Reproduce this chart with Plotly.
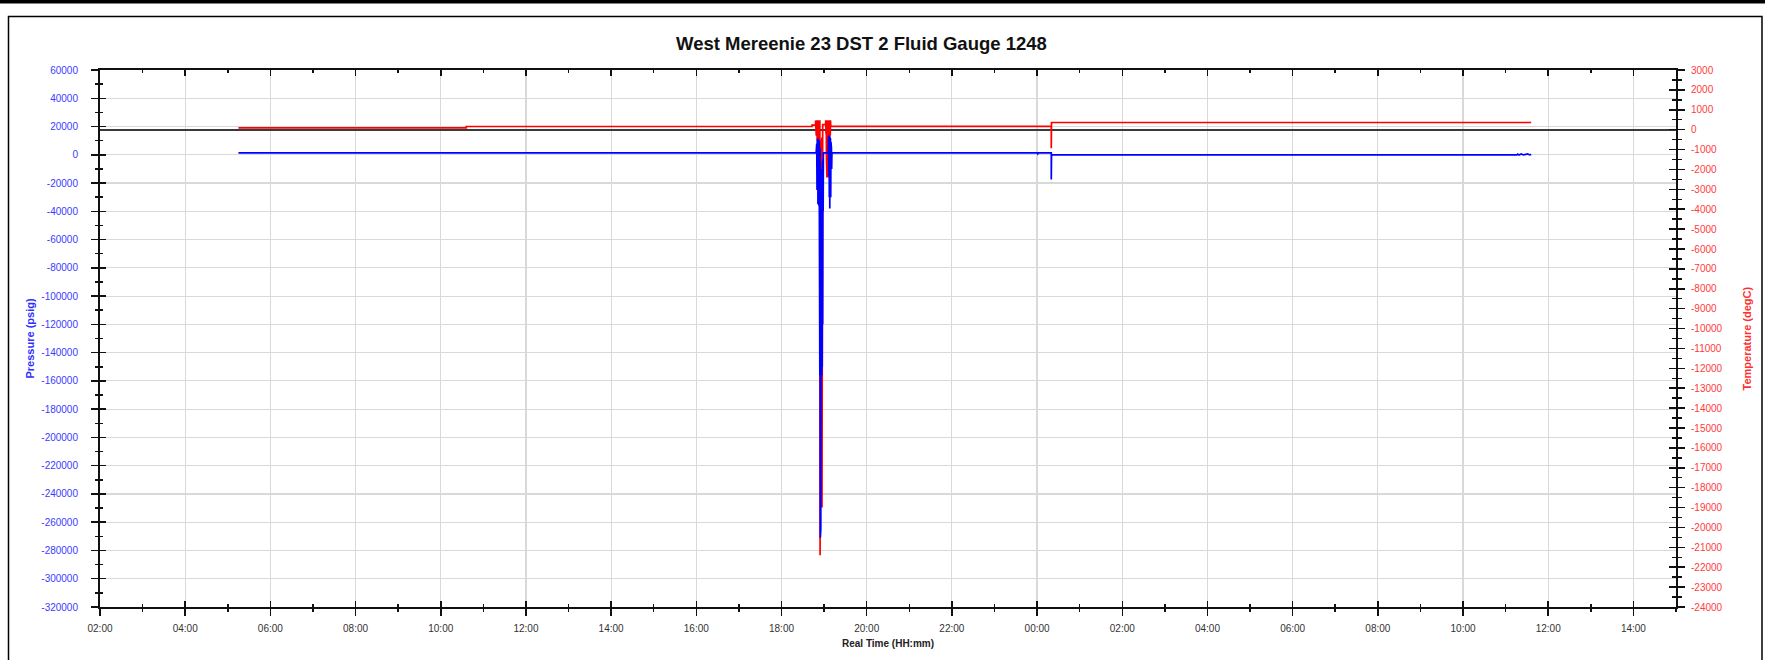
import plotly.graph_objects as go

# ---------------- data ----------------
TITLE = "West Mereenie 23 DST 2 Fluid Gauge 1248"
X_TITLE = "Real Time (HH:mm)"
Y_LEFT_TITLE = "Pressure (psig)"
Y_RIGHT_TITLE = "Temperature (degC)"

x_range = ["2019-05-10 02:00", "2019-05-11 15:00"]
p_range = [-320000, 60000]
t_range = [-24000, 3000]

p_ticks = [-320000, -300000, -280000, -260000, -240000, -220000, -200000, -180000,
           -160000, -140000, -120000, -100000, -80000, -60000, -40000, -20000,
           0, 20000, 40000, 60000]
t_ticks = [-24000, -23000, -22000, -21000, -20000, -19000, -18000, -17000, -16000,
           -15000, -14000, -13000, -12000, -11000, -10000, -9000, -8000, -7000,
           -6000, -5000, -4000, -3000, -2000, -1000, 0, 1000, 2000, 3000]

# Pressure (psig) - blue
p_time = [
    "2019-05-10 05:15:00", "2019-05-10 18:48:40",
    "2019-05-10 18:49:00", "2019-05-10 18:49:20", "2019-05-10 18:49:40", "2019-05-10 18:50:00",
    "2019-05-10 18:50:20", "2019-05-10 18:50:40", "2019-05-10 18:51:00", "2019-05-10 18:51:20",
    "2019-05-10 18:51:40", "2019-05-10 18:52:00", "2019-05-10 18:52:20", "2019-05-10 18:52:40",
    "2019-05-10 18:53:00", "2019-05-10 18:53:20", "2019-05-10 18:53:40", "2019-05-10 18:54:00",
    "2019-05-10 18:54:20", "2019-05-10 18:54:40", "2019-05-10 18:55:00", "2019-05-10 18:55:20",
    "2019-05-10 18:55:40", "2019-05-10 18:56:00", "2019-05-10 18:56:20", "2019-05-10 18:56:40",
    "2019-05-10 18:57:00", "2019-05-10 18:57:20", "2019-05-10 18:57:40", "2019-05-10 18:58:00",
    "2019-05-10 18:58:20", "2019-05-10 18:58:40", "2019-05-10 18:59:00",
    "2019-05-10 19:06:00",
    "2019-05-10 19:06:20", "2019-05-10 19:06:40", "2019-05-10 19:07:00", "2019-05-10 19:07:20",
    "2019-05-10 19:07:40", "2019-05-10 19:08:00", "2019-05-10 19:08:20", "2019-05-10 19:08:40",
    "2019-05-10 19:09:00", "2019-05-10 19:09:20", "2019-05-10 19:09:40", "2019-05-10 19:10:00",
    "2019-05-10 19:10:20", "2019-05-10 19:10:40", "2019-05-10 19:11:00",
    "2019-05-11 00:00:00", "2019-05-11 00:01:00", "2019-05-11 00:02:00",
    "2019-05-11 00:20:00", "2019-05-11 00:20:00", "2019-05-11 00:20:20",
    "2019-05-11 11:16:00", "2019-05-11 11:17:00", "2019-05-11 11:19:00", "2019-05-11 11:22:00",
    "2019-05-11 11:25:00", "2019-05-11 11:28:00", "2019-05-11 11:31:00", "2019-05-11 11:34:00",
    "2019-05-11 11:36:00",
]
p_val = [
    1400, 1400,
    3000, -8000, 8000, -25000,
    10000, -34000, 11500, -35000,
    11000, -33000, 11000, -36000,
    10500, -40000, 9000, -156000,
    5000, -271000, -30000, -265000,
    -20000, -156000, -10000, -156000,
    -10000, -150000, -5000, -120000,
    -3000, -40000, 1400,
    1400,
    13000, -15000, 13600, -30000,
    13000, -38000, 12000, -38000,
    11000, -30000, 9000, -20000,
    5000, -10000, 1400,
    1400, 600, 1400,
    1400, -17500, -100,
    -100, 500, -100, 600,
    -100, 500, 600, -100,
    300,
]

# Temperature (degC) - red
t_time = [
    "2019-05-10 05:15:00", "2019-05-10 10:36:00", "2019-05-10 10:36:00",
    "2019-05-10 18:43:00", "2019-05-10 18:43:00", "2019-05-10 18:48:00", "2019-05-10 18:48:00",
    "2019-05-10 18:49:00", "2019-05-10 18:49:20", "2019-05-10 18:49:40", "2019-05-10 18:50:00",
    "2019-05-10 18:50:20", "2019-05-10 18:50:40", "2019-05-10 18:51:00", "2019-05-10 18:51:20",
    "2019-05-10 18:51:40", "2019-05-10 18:52:00", "2019-05-10 18:52:20", "2019-05-10 18:52:40",
    "2019-05-10 18:53:00", "2019-05-10 18:53:20", "2019-05-10 18:53:40", "2019-05-10 18:54:00",
    "2019-05-10 18:54:20", "2019-05-10 18:54:40", "2019-05-10 18:55:00", "2019-05-10 18:55:20",
    "2019-05-10 18:55:40", "2019-05-10 18:56:00", "2019-05-10 18:56:20", "2019-05-10 18:56:40",
    "2019-05-10 18:57:00", "2019-05-10 18:57:20", "2019-05-10 18:57:40", "2019-05-10 18:58:00",
    "2019-05-10 19:02:00",
    "2019-05-10 19:02:20", "2019-05-10 19:02:40", "2019-05-10 19:03:00", "2019-05-10 19:03:20",
    "2019-05-10 19:03:40", "2019-05-10 19:04:00", "2019-05-10 19:04:20", "2019-05-10 19:04:40",
    "2019-05-10 19:05:00", "2019-05-10 19:05:20", "2019-05-10 19:05:40", "2019-05-10 19:06:00",
    "2019-05-10 19:06:20", "2019-05-10 19:06:40", "2019-05-10 19:07:00", "2019-05-10 19:07:20",
    "2019-05-10 19:07:40", "2019-05-10 19:08:00", "2019-05-10 19:08:20", "2019-05-10 19:08:40",
    "2019-05-10 19:09:00", "2019-05-10 19:09:20",
    "2019-05-11 00:20:00", "2019-05-11 00:20:00", "2019-05-11 00:20:20", "2019-05-11 11:36:00",
]
t_val = [
    90, 90, 160,
    160, 230, 230, 460,
    -300, 470, -500, 470,
    -540, 470, -520, 470,
    -540, 470, -500, 470,
    -540, 470, -3000, 470,
    -21400, -540, -12000, -540,
    -19000, -500, -19000, -400,
    -19000, -300, -8000, 250,
    250,
    470, -200, 470, -1500,
    470, -2400, 470, -2400,
    470, -2400, 470, -2400,
    470, -2000, 470, -1500,
    470, -600, 470, -300,
    470, 170,
    170, -930, 360, 360,
]

# ---------------- styling ----------------
FONT = "Liberation Sans, Arial, sans-serif"
AX = "#111111"
GRID = "#d9d9d9"
BLUE_TXT = "#3b3bff"
RED_TXT = "#ff3b3b"

W, H = 1765, 660
ML, MR, MT, MB = 100, 89, 70, 53
PW, PH = W - ML - MR, H - MT - MB


def px(xp):
    return (xp - ML) / PW


def py(yp):
    return (H - MB - yp) / PH


fig = go.Figure()
fig.add_trace(go.Scatter(x=t_time, y=t_val, mode="lines", xaxis="x", yaxis="y",
                         line=dict(color="#ff0000", width=1.7), name="Temperature",
                         showlegend=False, hoverinfo="skip"))
fig.add_trace(go.Scatter(x=p_time, y=p_val, mode="lines", xaxis="x", yaxis="y2",
                         line=dict(color="#0000ff", width=1.7), name="Pressure",
                         showlegend=False, hoverinfo="skip"))

xcommon = dict(type="date", range=x_range, tick0=x_range[0], dtick=7200000,
               tickformat="%H:%M", linecolor=AX, linewidth=2, tickcolor=AX, tickwidth=1.5,
               zeroline=False)
fig.update_layout(
    width=W, height=H,
    margin=dict(l=ML, r=MR, t=MT, b=MB, pad=0),
    paper_bgcolor="white", plot_bgcolor="white",
    font=dict(family=FONT, size=10, color="#333333"),
    showlegend=False,
    xaxis=dict(**xcommon, ticks="outside", ticklen=7, showline=True, showgrid=True,
               gridcolor=GRID, gridwidth=1.2, anchor="y2",
               tickfont=dict(family=FONT, size=10, color="#333333"), ticklabelstandoff=4,
               minor=dict(dtick=3600000, tick0=x_range[0], ticks="outside", ticklen=3,
                          tickcolor=AX, tickwidth=1.5, showgrid=False)),
    xaxis2=dict(**xcommon, overlaying="x", anchor="y2", side="bottom", ticks="inside", ticklen=6,
                showline=True, mirror="ticks", showgrid=False, showticklabels=False,
                minor=dict(dtick=3600000, tick0=x_range[0], ticks="inside", ticklen=3,
                           tickcolor=AX, tickwidth=1.5, showgrid=False)),
    yaxis=dict(range=t_range, tickmode="array", tickvals=t_ticks,
               ticktext=[str(v) for v in t_ticks], side="right", anchor="x",
               ticks="outside", ticklen=7,
               tickcolor=AX, tickwidth=1.5, showline=True, linecolor=AX, linewidth=2,
               showgrid=False, zeroline=True, zerolinecolor="#3a3a3a", zerolinewidth=2,
               tickfont=dict(family=FONT, size=10, color=RED_TXT), ticklabelstandoff=4,
               minor=dict(dtick=500, ticks="outside", ticklen=4, tickcolor=AX, tickwidth=1.5,
                          showgrid=False)),
    yaxis2=dict(range=p_range, tickmode="array", tickvals=p_ticks,
                ticktext=[str(v) for v in p_ticks], side="left", overlaying="y", anchor="x",
                ticks="outside", ticklen=7, tickcolor=AX, tickwidth=1.5, showline=True,
                linecolor=AX, linewidth=2, showgrid=True, gridcolor=GRID, gridwidth=1.2,
                zeroline=False, tickfont=dict(family=FONT, size=10, color=BLUE_TXT),
                ticklabelstandoff=11,
                minor=dict(dtick=10000, ticks="outside", ticklen=3, tickcolor=AX,
                           tickwidth=1.5, showgrid=False)),
    yaxis3=dict(range=t_range, tickmode="array", tickvals=t_ticks, side="right",
                overlaying="y", anchor="x",
                ticks="inside", ticklen=7, tickcolor=AX, tickwidth=1.5, showline=False,
                showgrid=False, zeroline=False, showticklabels=False,
                minor=dict(dtick=500, ticks="inside", ticklen=4, tickcolor=AX, tickwidth=1.5,
                           showgrid=False)),
    yaxis4=dict(range=p_range, tickmode="array", tickvals=p_ticks, side="left",
                overlaying="y", anchor="x",
                ticks="inside", ticklen=6, tickcolor=AX, tickwidth=1.5, showline=False,
                showgrid=False, zeroline=False, showticklabels=False,
                minor=dict(dtick=10000, ticks="inside", ticklen=3, tickcolor=AX,
                           tickwidth=1.5, showgrid=False)),
)

# dummy empty traces so the tick-overlay axes are drawn
fig.add_trace(go.Scatter(x=[x_range[0]], y=[None], xaxis="x2", yaxis="y2", mode="lines",
                         showlegend=False, hoverinfo="skip"))
fig.add_trace(go.Scatter(x=[x_range[0]], y=[None], xaxis="x", yaxis="y3", mode="lines",
                         showlegend=False, hoverinfo="skip"))
fig.add_trace(go.Scatter(x=[x_range[0]], y=[None], xaxis="x", yaxis="y4", mode="lines",
                         showlegend=False, hoverinfo="skip"))

# titles
fig.add_annotation(text=f"<b>{TITLE}</b>", xref="paper", yref="paper", x=px(861), y=py(43),
                   xanchor="center", yanchor="middle", showarrow=False,
                   font=dict(family=FONT, size=18.5, color="#111111"))
fig.add_annotation(text=f"<b>{X_TITLE}</b>", xref="paper", yref="paper", x=px(888), y=py(643),
                   xanchor="center", yanchor="middle", showarrow=False,
                   font=dict(family=FONT, size=10, color="#222222"))
fig.add_annotation(text=f"<b>{Y_LEFT_TITLE}</b>", xref="paper", yref="paper", x=px(29), y=0.5,
                   xanchor="center", yanchor="middle", showarrow=False, textangle=-90,
                   font=dict(family=FONT, size=11, color="#2f2fff"))
fig.add_annotation(text=f"<b>{Y_RIGHT_TITLE}</b>", xref="paper", yref="paper", x=px(1746), y=0.5,
                   xanchor="center", yanchor="middle", showarrow=False, textangle=-90,
                   font=dict(family=FONT, size=11, color="#ff2f2f"))

# page decoration: top bar and outer frame
fig.add_shape(type="rect", xref="paper", yref="paper", x0=px(-5), x1=px(W + 5), y0=py(3.5), y1=py(-5),
              fillcolor="#000000", line=dict(width=0), layer="above")
fig.add_shape(type="rect", xref="paper", yref="paper", x0=px(8.5), x1=px(1762), y0=py(700), y1=py(16.5),
              fillcolor="rgba(0,0,0,0)", line=dict(color="#000000", width=1.5), layer="above")

fig.write_html("out.html",
               config={"displayModeBar": False, "staticPlot": True},
               post_script="document.body.style.margin='0';document.body.style.overflow='hidden';")
